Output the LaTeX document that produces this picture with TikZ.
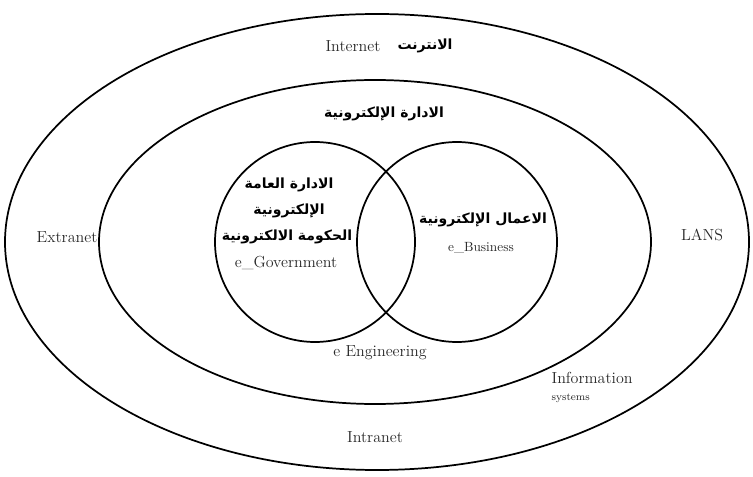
\documentclass[tikz,border=0pt]{standalone}
\usepackage{fontspec}
\newfontfamily\arabicfont[Script=Arabic]{DejaVu Sans}
\TeXXeTstate=1
\usetikzlibrary{positioning}
\definecolor{inkgray}{RGB}{40,40,40}

\tikzset{
  ring/.style={draw=black, line width=1.3pt},
  latin/.style={font=\large, text=inkgray, inner sep=1pt},
  arab/.style={font=\arabicfont\bfseries\fontsize{10.5}{12}\selectfont, text=black, inner sep=1pt}
}

\begin{document}
\begin{tikzpicture}[x=0.75pt, y=-0.75pt]
  \useasboundingbox (0,0) rectangle (753,477);
  % rings
  \draw[ring] (377,242) ellipse [x radius=372, y radius=228];
  \draw[ring] (375,242) ellipse [x radius=276, y radius=162];
  \draw[ring] (315,242) circle [radius=100];
  \draw[ring] (457,242) circle [radius=100];

  % outer ring labels
  \node[latin] (internet) at (353,46) {Internet};
  \node[arab] (internetar) at (425,46) {\beginR الانترنت\endR};
  \node[latin] (extranet) at (67,237) {Extranet};
  \node[latin] (lans) at (702,235) {LANS};
  \node[latin] (intranet) at (375,437) {Intranet};

  % inner ring labels
  \node[arab] (edara) at (384,114) {\beginR الادارة الإلكترونية\endR};
  \node[latin] (engineering) at (380,353) {e Engineering};
  \node[latin, anchor=west] (information) at (550,378) {Information};
  \node[latin, font=\footnotesize, anchor=west] (systems) at (550,398) {systems};

  % circles
  \node[arab] (gov1) at (289,185) {\beginR الادارة العامة\endR};
  \node[arab] (gov2) at (289,211) {\beginR الإلكترونية\endR};
  \node[arab] (gov3) at (287,237) {\beginR الحكومة الالكترونية\endR};
  \node[latin] (egov) at (286,263) {e\_Government};
  \node[arab] (bus1) at (483,220) {\beginR الاعمال الإلكترونية\endR};
  \node[latin, font=\normalsize] (ebus) at (481,248) {e\_Business};
\end{tikzpicture}
\end{document}
